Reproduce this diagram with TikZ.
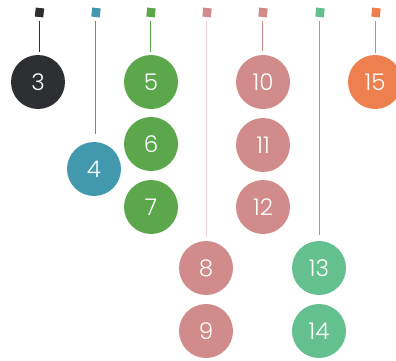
\documentclass[tikz,border=0pt]{standalone}
\usepackage{fontspec}
\setmainfont{Poppins Light}
\definecolor{cdark}{HTML}{2E2F33}
\definecolor{cblue}{HTML}{4299AE}
\definecolor{cgreen}{HTML}{5CA64B}
\definecolor{cpink}{HTML}{D08B8A}
\definecolor{cmint}{HTML}{64C08E}
\definecolor{corange}{HTML}{EE7F4F}
\begin{document}
\begin{tikzpicture}[x=1pt,y=-1pt,
  ball/.style={circle,fill=#1,minimum size=54pt,inner sep=0pt,text=white,font=\fontsize{23}{23}\selectfont},
  flag/.style={rectangle,fill=#1,minimum width=8.5pt,minimum height=9pt,inner sep=0pt,rotate=-6},
  stem/.style={draw=#1,line width=0.9pt,shorten <=4pt},
]
\useasboundingbox (0,0) rectangle (396,361);
% flags
\node[flag=cdark] (f3) at (39.5,12.5) {};
\node[flag=cblue] (f4) at (96,12.5) {};
\node[flag=cgreen] (f5) at (151,12.5) {};
\node[flag=cpink] (f8) at (207,12.5) {};
\node[flag=cpink] (f10) at (263,12.5) {};
\node[flag=cmint] (f13) at (320,12.5) {};
\node[flag=corange] (f15) at (376,12.5) {};
% balls
\node[ball=cdark] (c3) at (38,82) {3};
\node[ball=cblue] (c4) at (94,169) {4};
\node[ball=cgreen] (c5) at (151,82) {5};
\node[ball=cgreen] (c6) at (151,144) {6};
\node[ball=cgreen] (c7) at (151,207) {7};
\node[ball=cpink] (c8) at (206,268) {8};
\node[ball=cpink] (c9) at (206,331) {9};
\node[ball=cpink] (c10) at (263,82) {10};
\node[ball=cpink] (c11) at (263,145) {11};
\node[ball=cpink] (c12) at (263,207) {12};
\node[ball=cmint] (c13) at (319,268) {13};
\node[ball=cmint] (c14) at (319,331) {14};
\node[ball=corange] (c15) at (375,82) {15};
% stems
\draw[stem=cdark,shorten >=3pt] (f3.south) -- (f3.south |- c3.north);
\draw[stem=cblue,shorten >=8pt] (f4.south) -- (f4.south |- c4.north);
\draw[stem=cgreen,shorten >=3pt] (f5.south) -- (f5.south |- c5.north);
\draw[stem=cpink!40,shorten >=4pt] (f8.south) -- (f8.south |- c8.north);
\draw[stem=cpink,shorten >=4pt] (f10.south) -- (f10.south |- c10.north);
\draw[stem=cmint,shorten >=6pt] (f13.south) -- (f13.south |- c13.north);
\draw[stem=corange,shorten >=2pt] (f15.south) -- (f15.south |- c15.north);
\end{tikzpicture}
\end{document}
